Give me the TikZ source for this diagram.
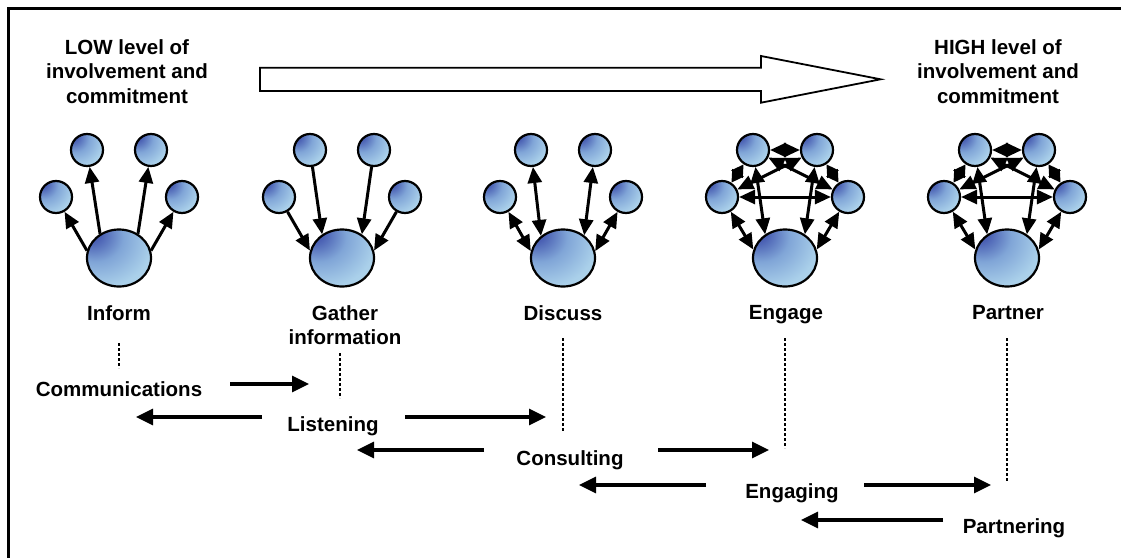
\documentclass[tikz,border=0pt]{standalone}
\usepackage{fontspec}
\setmainfont{Liberation Sans}
\usetikzlibrary{arrows.meta,shapes.geometric}
\definecolor{balldark}{RGB}{60,78,170}
\definecolor{ballmid}{RGB}{128,165,215}
\definecolor{balllight}{RGB}{170,208,234}
\definecolor{balllighter}{RGB}{185,220,240}
\pgfdeclareradialshading{myball}{\pgfpoint{-24bp}{24bp}}{color(0bp)=(balldark); color(8bp)=(balldark!80!ballmid); color(22bp)=(ballmid); color(40bp)=(balllight); color(70bp)=(balllighter); color(100bp)=(balllighter)}
\tikzset{
  smallball/.style={circle, draw, line width=2.2pt, minimum size=32pt, inner sep=0pt, shading=myball},
  bigball/.style={ellipse, draw, line width=2.2pt, minimum width=64pt, minimum height=57pt, inner sep=0pt, shading=myball},
  ga/.style={line width=3pt, -{Triangle[length=16pt,width=14pt]}},
  dga/.style={line width=3pt, {Triangle[length=16pt,width=14pt]}-{Triangle[length=16pt,width=14pt]}},
  sdga/.style={line width=3pt, {Triangle[length=12pt,width=13pt]}-{Triangle[length=12pt,width=13pt]}},
  ba/.style={line width=3.2pt, -{Triangle[length=17pt,width=16pt]}},
  dots/.style={line width=2.8pt, dash pattern=on 2.5pt off 2.5pt},
  lbl/.style={font=\fontsize{20.5}{24.5}\selectfont\bfseries, inner sep=0pt, align=center},
}
\newcommand\mkgraph[3]{%
  \node[bigball] (#1b) at (#2,#3) {};
  \node[smallball] (#1tl) at ([shift={(-32,-108)}]#2,#3) {};
  \node[smallball] (#1tr) at ([shift={(32,-108)}]#2,#3) {};
  \node[smallball] (#1l) at ([shift={(-63,-61)}]#2,#3) {};
  \node[smallball] (#1r) at ([shift={(63,-61)}]#2,#3) {};
}
\begin{document}
\begin{tikzpicture}[x=1pt,y=-1pt]
\useasboundingbox (0,0) rectangle (1121,557);
\fill[white] (0,0) rectangle (1121,557);
% frame
\coordinate (fr1) at (1130,8.5);
\coordinate (fr2) at (8.5,8.5);
\coordinate (fr3) at (8.5,566);
\draw[line width=3pt] (fr1) -- (fr2) -- (fr3);
% top labels
\node[lbl, anchor=north] (low) at (127,39) {LOW level of\\involvement and\\commitment};
\node[lbl, anchor=north] (high) at (998,39) {HIGH level of\\involvement and\\commitment};
% big outline arrow
\draw[line width=1.8pt, fill=white] (260,67.7) -- (761,67.7) -- (761,56) -- (880.6,79.3) -- (761,102.7) -- (761,91) -- (260,91) -- cycle;
% graphs
\mkgraph{i}{119}{258}
\mkgraph{g}{342}{258}
\mkgraph{d}{563}{258}
\mkgraph{e}{785}{258}
\mkgraph{p}{1007}{258}
% Inform
\draw[ga] (ib.167) -- (il);
\draw[ga] (ib.128) -- (itl);
\draw[ga] (ib.52) -- (itr);
\draw[ga] (ib.13) -- (ir);
% Gather
\draw[ga] (gl) -- (gb.167);
\draw[ga] (gtl) -- (gb.130);
\draw[ga] (gtr) -- (gb.50);
\draw[ga] (gr) -- (gb.13);
% Discuss
\draw[dga] (db.168) -- (dl);
\draw[dga] (db.135) -- (dtl);
\draw[dga] (db.47) -- (dtr);
\draw[dga] (db.12) -- (dr);
% Engage and Partner
\foreach \q in {e,p}{
  \draw[dga] (\q b.165) -- (\q l);
  \draw[dga] (\q b.130) -- (\q tl);
  \draw[dga] (\q b.50) -- (\q tr);
  \draw[dga] (\q b.15) -- (\q r);
  \draw[sdga] (\q l) -- (\q tl);
  \draw[dga] (\q tl) -- (\q tr);
  \draw[sdga] (\q tr) -- (\q r);
  \draw[dga] (\q l) -- (\q r);
  \draw[dga] (\q l) -- (\q tr);
  \draw[dga] (\q r) -- (\q tl);
}
% stage labels
\node[lbl, anchor=north] (inform) at (119,305) {Inform};
\node[lbl, anchor=north] (gather) at (345,305) {Gather\\information};
\node[lbl, anchor=north] (discuss) at (563,305) {Discuss};
\node[lbl, anchor=north] (engage) at (786,305) {Engage};
\node[lbl, anchor=north] (partner) at (1008,305) {Partner};
% dotted lines
\coordinate (d1a) at (119,343); \coordinate (d1b) at (119,368);
\coordinate (d2a) at (340,353); \coordinate (d2b) at (340,398);
\coordinate (d3a) at (563,338); \coordinate (d3b) at (563,431);
\coordinate (d4a) at (785,338); \coordinate (d4b) at (785,448);
\coordinate (d5a) at (1007,338); \coordinate (d5b) at (1007,482);
\draw[dots] (d1a) -- (d1b);
\draw[dots] (d2a) -- (d2b);
\draw[dots] (d3a) -- (d3b);
\draw[dots] (d4a) -- (d4b);
\draw[dots] (d5a) -- (d5b);
% activity labels
\node[lbl, anchor=base] (comm) at (119,396) {Communications};
\node[lbl, anchor=base] (listen) at (333,431) {Listening};
\node[lbl, anchor=base] (consult) at (570,465) {Consulting};
\node[lbl, anchor=base] (engaging) at (792,498) {Engaging};
\node[lbl, anchor=base] (partnering) at (1014,533) {Partnering};
% activity arrows
\coordinate (a1s) at (230,384); \coordinate (a1e) at (309,384);
\coordinate (a2s) at (262,417); \coordinate (a2e) at (136,417);
\coordinate (a3s) at (405,417); \coordinate (a3e) at (546,417);
\coordinate (a4s) at (484,450); \coordinate (a4e) at (357,450);
\coordinate (a5s) at (658,450); \coordinate (a5e) at (769,450);
\coordinate (a6s) at (706,485); \coordinate (a6e) at (579,485);
\coordinate (a7s) at (864,485); \coordinate (a7e) at (991,485);
\coordinate (a8s) at (943,520); \coordinate (a8e) at (801,520);
\draw[ba] (a1s) -- (a1e);
\draw[ba] (a2s) -- (a2e);
\draw[ba] (a3s) -- (a3e);
\draw[ba] (a4s) -- (a4e);
\draw[ba] (a5s) -- (a5e);
\draw[ba] (a6s) -- (a6e);
\draw[ba] (a7s) -- (a7e);
\draw[ba] (a8s) -- (a8e);
\end{tikzpicture}
\end{document}
